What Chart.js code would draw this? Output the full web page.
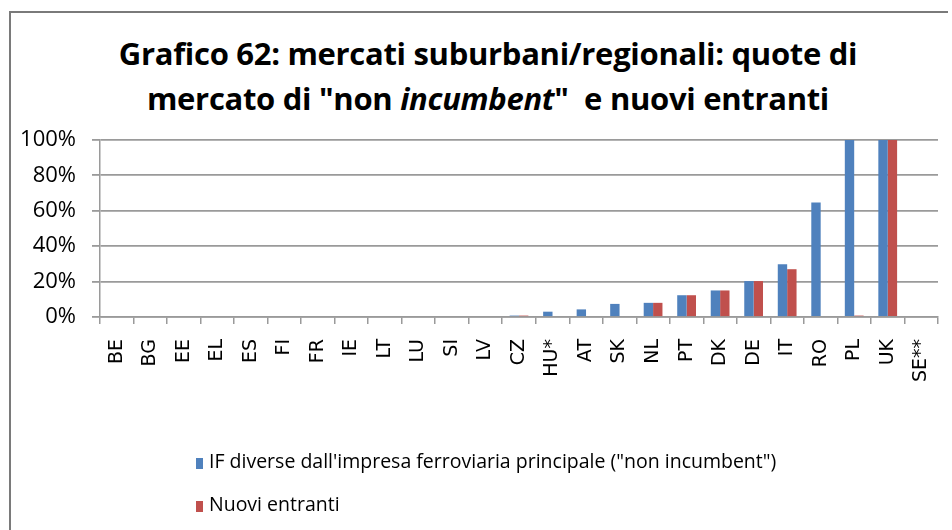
<!DOCTYPE html>
<html>
<head>
<meta charset="utf-8">
<style>
  html, body { margin: 0; padding: 0; background: #fff; }
  #wrap { position: relative; width: 952px; height: 530px; overflow: hidden; }
  #frame { position: absolute; left: 9px; top: 11px; width: 937px; height: 530px;
           border-left: 2px solid #7a7a7a; border-top: 2px solid #7a7a7a; }
  #title { position: absolute; left: 0; top: 31px; width: 976px; text-align: center;
           font-family: "Open Sans", sans-serif; font-weight: bold; font-size: 31px;
           line-height: 45px; letter-spacing: -0.3px; color: #000; }
  #legend { position: absolute; left: 196px; top: 447px;
            font-family: "Open Sans", sans-serif; font-size: 19.5px; color: #000; }
  #legend div { height: 43px; line-height: 28px; white-space: nowrap; }
  #legend span.box { display: inline-block; width: 7px; height: 11px; margin-right: 6px; vertical-align: -1px; }
  canvas { position: absolute; left: 0; top: 0; }
</style>
</head>
<body>
<div id="wrap">
  <div id="frame"></div>
  <div id="title">Grafico 62: mercati suburbani/regionali: quote di<br>mercato di "non <i>incumbent</i>"&nbsp; e nuovi entranti</div>
  <canvas id="quoteChart" width="952" height="530"></canvas>
  <div id="legend"></div>
</div>

<script src="https://cdn.jsdelivr.net/npm/chart.js"></script>

<script>
  const paesi = ['BE', 'BG', 'EE', 'EL', 'ES', 'FI', 'FR', 'IE', 'LT', 'LU', 'SI', 'LV', 'CZ',
                 'HU*', 'AT', 'SK', 'NL', 'PT', 'DK', 'DE', 'IT', 'RO', 'PL', 'UK', 'SE**'];
  // quote di mercato in %
  const nonIncumbent = [0, 0, 0, 0, 0, 0, 0, 0, 0, 0, 0, 0, 0.8,
                        3, 4.3, 7.4, 8, 12.3, 15, 20.3, 29.8, 64.7, 100, 100, 0];
  const nuoviEntranti = [0, 0, 0, 0, 0, 0, 0, 0, 0, 0, 0, 0, 0.8,
                         0, 0, 0, 8, 12.3, 15, 20.3, 27, 0, 0.8, 100, 0];
  const yTicks = [0, 20, 40, 60, 80, 100];

  const serie = [
    { label: 'IF diverse dall\'impresa ferroviaria principale ("non incumbent")', data: nonIncumbent, color: '#4f81bd' },
    { label: 'Nuovi entranti', data: nuoviEntranti, color: '#c0504d' }
  ];

  const gridColor = '#9a9a9a';

  const ctx = document.getElementById('quoteChart').getContext('2d');
  new Chart(ctx, {
    type: 'bar',
    data: {
      labels: paesi,
      datasets: serie.map(s => ({
        label: s.label,
        data: s.data,
        backgroundColor: s.color,
        borderWidth: 0,
        barPercentage: 1,
        categoryPercentage: 0.56
      }))
    },
    options: {
      responsive: false,
      animation: false,
      layout: { padding: { left: 10, right: 14, top: 140, bottom: 113 } },
      plugins: {
        legend: { display: false },
        title: { display: false },
        tooltip: { enabled: false }
      },
      scales: {
        x: {
          grid: { offset: true, drawOnChartArea: false, drawTicks: true, tickLength: 7, color: gridColor, lineWidth: 1.5 },
          border: { color: gridColor, width: 1.5 },
          ticks: {
            autoSkip: false, minRotation: 90, maxRotation: 90, padding: 15,
            color: '#000', font: { family: 'DejaVu Sans', size: 19 }
          },
          afterFit: scale => {
            scale.height = 100;
            scale.paddingLeft = 0;
            scale.paddingRight = 0;
          }
        },
        y: {
          min: 0, max: 100,
          afterBuildTicks: scale => { scale.ticks = yTicks.map(v => ({ value: v })); },
          grid: { color: gridColor, lineWidth: 1.8, tickLength: 8 },
          border: { color: gridColor, width: 1.5 },
          ticks: {
            padding: 16, color: '#000',
            font: { family: 'Open Sans', size: 22 },
            callback: v => v + '%'
          },
          afterFit: scale => { scale.width = 90; }
        }
      }
    }
  });

  // legenda verticale sotto il grafico
  const legend = document.getElementById('legend');
  serie.forEach(s => {
    const row = document.createElement('div');
    const box = document.createElement('span');
    box.className = 'box';
    box.style.background = s.color;
    row.appendChild(box);
    row.appendChild(document.createTextNode(s.label));
    legend.appendChild(row);
  });
</script>
</body>
</html>
